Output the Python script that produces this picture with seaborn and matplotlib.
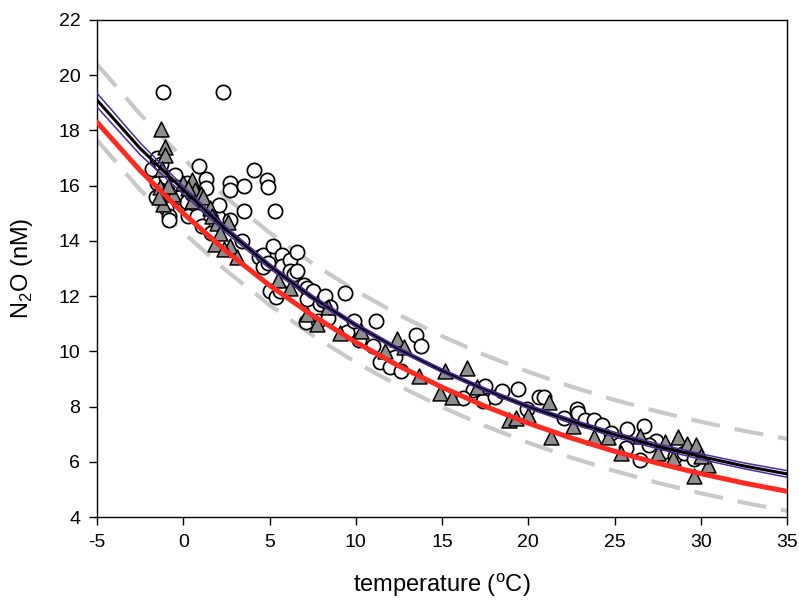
import numpy as np
import pandas as pd
import matplotlib
matplotlib.use("Agg")
import matplotlib.pyplot as plt
import seaborn as sns

# ---- data ----
circle_x = [-1.2, -1.8, -1.5, -1.5, -1.6, -1.3, -1.0, -1.0, -0.8, -0.8, -0.8, -0.5, -0.4, -0.2,
            0.2, 0.2, 0.3, 0.5, 0.8, 0.9, 1.1, 1.3, 1.3, 1.6,
            2.3, 2.0, 2.1, 2.7, 2.7, 2.7, 3.4, 3.5, 3.5, 4.1, 4.4, 4.6, 4.6, 4.85, 4.9, 4.9,
            5.0, 5.2, 5.3, 5.4, 5.7, 5.7, 5.6, 6.2, 6.2, 6.4, 6.6, 6.6, 7.0, 7.2, 7.2, 7.1,
            7.5, 7.8, 7.9, 8.1, 8.2, 8.4, 8.5,
            9.4, 9.5, 9.9, 10.2, 11.2, 11.4, 11.0, 12.0, 12.6, 13.5, 13.8, 12.3,
            16.8, 17.4, 17.5, 18.1, 18.5, 19.4, 20.6, 20.9, 16.2, 19.9,
            22.1, 22.8, 22.9, 23.3, 23.8, 24.3, 24.8, 25.7, 25.65, 26.5, 26.7, 27.4, 27.0,
            28.0, 28.5, 29.0, 29.6]
circle_y = [19.4, 16.6, 17.0, 16.1, 15.6, 16.8, 16.3, 15.2, 14.9, 15.7, 14.75, 16.4, 15.95, 15.6,
            16.1, 15.4, 14.9, 15.7, 14.9, 16.7, 14.55, 16.25, 15.9, 14.3,
            19.4, 14.85, 15.3, 16.1, 15.85, 14.75, 14.0, 16.0, 15.1, 16.55, 13.4, 13.05, 13.5, 16.2, 15.95, 13.2,
            12.2, 13.8, 15.1, 11.95, 13.5, 13.1, 12.2, 13.3, 12.9, 12.8, 13.6, 12.9, 12.4, 12.3, 11.9, 11.05,
            12.2, 11.1, 11.7, 11.85, 12.0, 11.2, 11.6,
            12.1, 10.7, 11.1, 10.4, 11.1, 9.6, 10.2, 9.45, 9.3, 10.6, 10.2, 9.8,
            8.6, 8.2, 8.75, 8.35, 8.55, 8.65, 8.35, 8.35, 8.3, 7.9,
            7.6, 7.9, 7.75, 7.5, 7.5, 7.35, 7.05, 7.2, 6.5, 6.05, 7.3, 6.75, 6.6,
            6.4, 6.2, 6.3, 6.1]

tri_x = [-1.3, -1.05, -1.05, -1.25, -1.35, -1.15, -1.4, -0.6, 0.0, 0.5, 0.7, 1.0, 1.15, 0.5,
         1.55, 1.65, 1.95, 2.6, 1.85, 2.15, 2.7, -0.9, 0.3, 2.35, 3.1,
         7.2, 7.75, 8.4, 9.1, 10.3, 6.2, 5.5,
         12.4, 12.8, 13.65, 15.2, 16.45, 14.9, 15.6, 17.0, 18.9, 19.3, 11.7,
         21.2, 21.3, 22.6, 23.8, 24.6, 26.5, 27.9, 28.7, 29.2, 29.7, 29.6, 27.5, 25.4,
         28.4, 30.4, 20.0, 30.0]
tri_y = [18.05, 17.4, 17.1, 16.6, 15.95, 15.35, 15.6, 15.7, 16.1, 16.2, 15.85, 15.7, 15.6, 15.45,
         15.2, 14.9, 14.65, 14.7, 13.9, 14.3, 13.8, 16.0, 15.9, 13.7, 13.4,
         11.35, 11.0, 11.6, 10.65, 10.75, 12.3, 12.6,
         10.45, 10.15, 9.1, 9.3, 9.4, 8.5, 8.35, 8.7, 7.5, 7.6, 10.0,
         8.15, 6.9, 7.3, 6.9, 6.9, 6.95, 6.7, 6.9, 6.65, 6.6, 5.5, 6.3, 6.3,
         6.15, 5.9, 7.7, 6.2]

curve_x = [-5, -2.5, 0, 2.5, 5, 7.5, 10, 12.5, 15, 17.5, 20, 22.5, 25, 27.5, 30, 32.5, 35]
fit_black = [19.10, 17.35, 15.85, 14.40, 13.10, 11.95, 10.95, 10.07, 9.30, 8.61, 8.00, 7.47,
             6.99, 6.56, 6.19, 5.85, 5.56]
ci_upper = [19.35, 17.55, 15.98, 14.50, 13.18, 12.02, 11.02, 10.13, 9.36, 8.67, 8.06, 7.54,
            7.07, 6.65, 6.29, 5.96, 5.68]
ci_lower = [18.85, 17.12, 15.70, 14.28, 13.00, 11.87, 10.88, 10.01, 9.24, 8.55, 7.93, 7.39,
            6.90, 6.47, 6.09, 5.75, 5.44]
fit_red = [18.30, 16.55, 15.00, 13.62, 12.39, 11.30, 10.33, 9.47, 8.70, 8.01, 7.40, 6.86,
           6.38, 5.95, 5.57, 5.23, 4.93]
pred_upper = [20.40, 18.59, 16.98, 15.56, 14.30, 13.18, 12.20, 11.32, 10.55, 9.86, 9.26, 8.72,
              8.24, 7.82, 7.45, 7.12, 6.83]
pred_lower = [17.65, 15.85, 14.30, 12.92, 11.68, 10.58, 9.60, 8.75, 7.98, 7.30, 6.69, 6.15,
              5.67, 5.24, 4.86, 4.52, 4.22]

x_ticks = [-5, 0, 5, 10, 15, 20, 25, 30, 35]
y_ticks = [4, 6, 8, 10, 12, 14, 16, 18, 20, 22]

# ---- style ----
sns.set_theme(style="ticks")
plt.rcParams['font.family'] = ['Liberation Sans', 'DejaVu Sans']
plt.rcParams['axes.linewidth'] = 1.0

fig = plt.figure(figsize=(7.99, 6.01), dpi=100)
fig.patch.set_facecolor('white')
ax = fig.add_axes([97/799, 1 - 517/601, 690/799, 497/601])

circles = pd.DataFrame({'t': circle_x, 'n2o': circle_y})
tris = pd.DataFrame({'t': tri_x, 'n2o': tri_y})
curves = pd.DataFrame({'t': curve_x, 'black': fit_black, 'cu': ci_upper, 'cl': ci_lower,
                       'red': fit_red, 'pu': pred_upper, 'pl': pred_lower})

sns.scatterplot(data=circles, x='t', y='n2o', marker='o', s=105, facecolor='white',
                edgecolor='black', linewidth=1.25, ax=ax, zorder=3)
sns.scatterplot(data=tris, x='t', y='n2o', marker='^', s=115, color='#8e8e8e',
                edgecolor='black', linewidth=1.1, ax=ax, zorder=4)

for col in ['pu', 'pl']:
    sns.lineplot(data=curves, x='t', y=col, color='#c8c8c8', linewidth=3.0,
                 linestyle=(0, (7, 3.6)), ax=ax, zorder=2)
sns.lineplot(data=curves, x='t', y='red', color='#ff2a1f', linewidth=3.6, ax=ax, zorder=5)
sns.lineplot(data=curves, x='t', y='black', color='black', linewidth=2.2, ax=ax, zorder=6)
for col in ['cu', 'cl']:
    sns.lineplot(data=curves, x='t', y=col, color='#4a2a9a', linewidth=1.1, ax=ax, zorder=7)

ax.set_xlim(-5, 35)
ax.set_ylim(4, 22)
ax.set_xticks(x_ticks)
ax.set_yticks(y_ticks)
ax.set_xticklabels([str(v) for v in x_ticks])
ax.set_yticklabels([str(v) for v in y_ticks])
ax.tick_params(axis='both', which='major', direction='out', length=6, width=1.0,
               labelsize=14, pad=6, colors='black')
ax.tick_params(top=False, right=False)
for sp in ax.spines.values():
    sp.set_visible(True)
    sp.set_color('black')
    sp.set_linewidth(1.0)

ax.set_xlabel('temperature ($^\\mathregular{o}$C)', fontsize=17, labelpad=15, color='black')
ax.set_ylabel('N$_\\mathregular{2}$O (nM)', fontsize=17, labelpad=17, color='black')
ax.grid(False)

fig.savefig('out.png', dpi=100, facecolor='white')
